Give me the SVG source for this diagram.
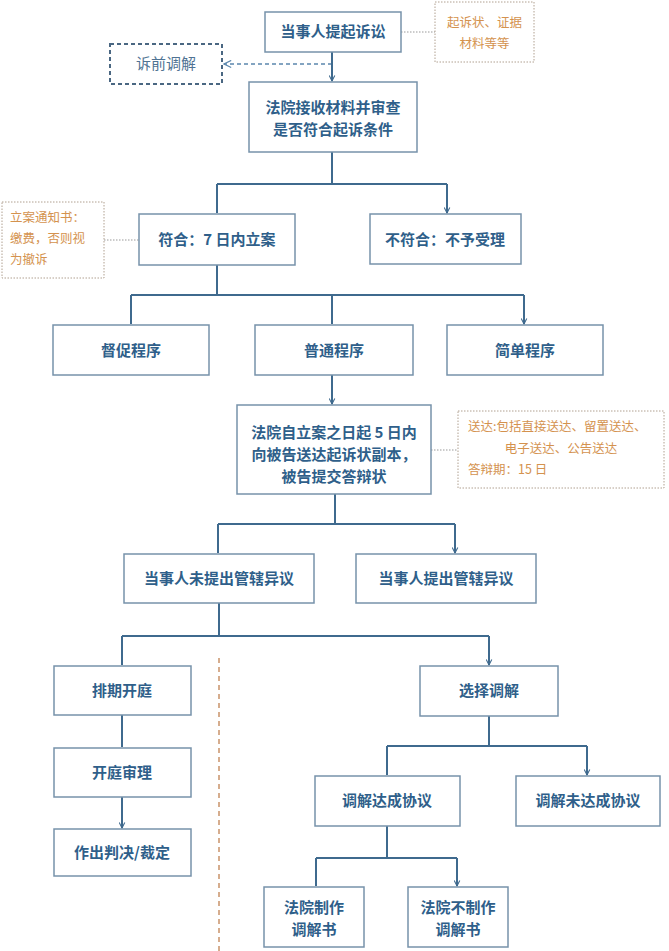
<svg xmlns="http://www.w3.org/2000/svg" width="669" height="951" viewBox="0 0 669 951">
<style>
.b{fill:#fff;stroke:#7792aa;stroke-width:1.5}
.t{font-family:"Noto Sans CJK SC",sans-serif;font-size:15px;font-weight:bold;fill:#2f5f8a;text-anchor:middle}
.n{fill:#fff;stroke:#b0a090;stroke-width:1;stroke-dasharray:1.5 1.5}
.nt{font-family:"Noto Sans CJK SC",sans-serif;font-size:12.5px;fill:#d4924e}
.c{fill:none;stroke:#3f6a8e;stroke-width:2}
.a{fill:none;stroke:#3f6a8e;stroke-width:2;marker-end:url(#ar)}
.dl{fill:none;stroke:#999;stroke-width:1;stroke-dasharray:1.5 1.5}
</style>
<defs>
<marker id="ar" viewBox="0 0 10 10" refX="9" refY="5" markerWidth="7" markerHeight="7" orient="auto" markerUnits="userSpaceOnUse"><path d="M1,1 L9,5 L1,9" fill="none" stroke="#3f6a8e" stroke-width="1.5"/></marker>
<marker id="ar2" viewBox="0 0 10 10" refX="9" refY="5" markerWidth="9" markerHeight="9" orient="auto" markerUnits="userSpaceOnUse"><path d="M1,1 L9,5 L1,9" fill="none" stroke="#5b87ad" stroke-width="1.3"/></marker>
</defs>
<rect width="669" height="951" fill="#fff"/>
<g id="connectors">
<path class="dl" d="M401,32 H435 M104,240 H139 M431,450 H458"/>
<path d="M332,64 H224" fill="none" stroke="#5b87ad" stroke-width="1.5" stroke-dasharray="4 3" marker-end="url(#ar2)"/>
<path class="a" d="M332,52 V81"/>
<path class="c" d="M332,152 V184 M217,184 H447"/>
<path class="a" d="M217,184 V213 M447,184 V213"/>
<path class="c" d="M217,265 V295 M131,295 H524"/>
<path class="a" d="M131,295 V324 M332,295 V324 M524,295 V324"/>
<path class="a" d="M332,375 V404"/>
<path class="c" d="M335,494 V524 M218,524 H455"/>
<path class="a" d="M218,524 V553 M455,524 V553"/>
<path class="c" d="M219,603 V636 M122,636 H489"/>
<path class="a" d="M122,636 V665 M489,636 V665"/>
<path class="a" d="M122,715 V747 M122,797 V828"/>
<path class="c" d="M489,716 V746 M387,746 H587"/>
<path class="a" d="M387,746 V775 M587,746 V775"/>
<path class="c" d="M387,826 V858 M316,858 H457"/>
<path class="a" d="M316,858 V886 M457,858 V886"/>
<path d="M219,658 V951" stroke="#c9936a" stroke-width="1.5" stroke-dasharray="5 4" fill="none"/>
</g>
<g id="n1"><rect class="b" x="265" y="12" width="136" height="40"/><text class="t" x="333" y="37">当事人提起诉讼</text></g>
<g id="note1"><rect class="n" x="435" y="2" width="99" height="60"/><text class="nt" x="484.5" y="27" text-anchor="middle">起诉状、证据</text><text class="nt" x="484.5" y="48" text-anchor="middle">材料等等</text></g>
<g id="n0"><rect x="110" y="44" width="112" height="40" fill="#fff" stroke="#4a6782" stroke-width="2" stroke-dasharray="4 3"/><text x="166" y="69" text-anchor="middle" font-family="Noto Sans CJK SC,sans-serif" font-size="15" fill="#4f7393">诉前调解</text></g>
<g id="n2"><rect class="b" x="249" y="82" width="168" height="70"/><text class="t" x="333" y="113">法院接收材料并审查</text><text class="t" x="333" y="135">是否符合起诉条件</text></g>
<g id="n3"><rect class="b" x="139" y="214" width="156" height="51"/><text class="t" x="217" y="245">符合：7 日内立案</text></g>
<g id="n4"><rect class="b" x="370" y="214" width="151" height="50"/><text class="t" x="445" y="245">不符合：不予受理</text></g>
<g id="note2"><rect class="n" x="2" y="202" width="102" height="76"/><text class="nt" x="10" y="222">立案通知书：</text><text class="nt" x="10" y="243">缴费，否则视</text><text class="nt" x="10" y="264">为撤诉</text></g>
<g id="n5"><rect class="b" x="53" y="325" width="156" height="50"/><text class="t" x="131" y="356">督促程序</text></g>
<g id="n6"><rect class="b" x="255" y="325" width="158" height="50"/><text class="t" x="334" y="356">普通程序</text></g>
<g id="n7"><rect class="b" x="447" y="325" width="156" height="50"/><text class="t" x="525" y="356">简单程序</text></g>
<g id="n8"><rect class="b" x="237" y="405" width="194" height="89"/><text class="t" x="334" y="438">法院自立案之日起 5 日内</text><text class="t" x="334" y="460">向被告送达起诉状副本，</text><text class="t" x="334" y="482">被告提交答辩状</text></g>
<g id="note3"><rect class="n" x="458" y="411" width="206" height="77"/><text class="nt" x="468" y="431">送达:包括直接送达、留置送达、</text><text class="nt" x="561" y="453" text-anchor="middle">电子送达、公告送达</text><text class="nt" x="468" y="474">答辩期：15 日</text></g>
<g id="n9"><rect class="b" x="124" y="554" width="190" height="49"/><text class="t" x="219" y="584">当事人未提出管辖异议</text></g>
<g id="n10"><rect class="b" x="356" y="554" width="180" height="49"/><text class="t" x="446" y="584">当事人提出管辖异议</text></g>
<g id="n11"><rect class="b" x="54" y="666" width="137" height="49"/><text class="t" x="122" y="696">排期开庭</text></g>
<g id="n12"><rect class="b" x="54" y="748" width="137" height="49"/><text class="t" x="122" y="778">开庭审理</text></g>
<g id="n13"><rect class="b" x="54" y="829" width="137" height="47"/><text class="t" x="122" y="858">作出判决/裁定</text></g>
<g id="n14"><rect class="b" x="420" y="666" width="138" height="50"/><text class="t" x="489" y="696">选择调解</text></g>
<g id="n15"><rect class="b" x="315" y="776" width="145" height="50"/><text class="t" x="387" y="806">调解达成协议</text></g>
<g id="n16"><rect class="b" x="516" y="776" width="144" height="50"/><text class="t" x="588" y="806">调解未达成协议</text></g>
<g id="n17"><rect class="b" x="264" y="887" width="100" height="60"/><text class="t" x="314" y="913">法院制作</text><text class="t" x="314" y="935">调解书</text></g>
<g id="n18"><rect class="b" x="408" y="887" width="100" height="60"/><text class="t" x="458" y="913">法院不制作</text><text class="t" x="458" y="935">调解书</text></g>
</svg>
